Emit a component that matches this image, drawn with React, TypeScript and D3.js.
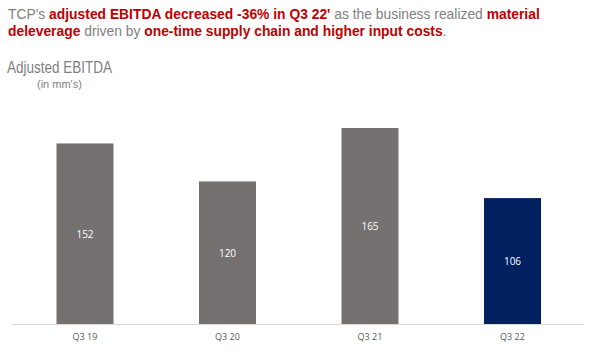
import React from "react";
import * as d3 from "d3";

const categories = ["Q3 19", "Q3 20", "Q3 21", "Q3 22"];
const values = [152, 120, 165, 106];
const highlight = ["Q3 22"];

const W = 607;
const H = 358;

export default function App() {
  const x = d3.scaleBand<string>().domain(categories).range([13.75, 583.75]).paddingInner(0.6).paddingOuter(0.3);
  const y = d3.scaleLinear().domain([0, 165]).range([324, 128]);
  const gray = "#808080";
  const red = "#C00000";
  return (
    <svg width={W} height={H} style={{ position: "absolute", left: 0, top: 0 }} fontFamily="'Liberation Sans', Arial, sans-serif">
      <text x={8} y={19} fontSize={13.85} fill={gray}>
        <tspan>TCP's </tspan>
        <tspan fill={red} fontWeight="bold">adjusted EBITDA decreased -36% in Q3 22'</tspan>
        <tspan> as the business realized </tspan>
        <tspan fill={red} fontWeight="bold">material</tspan>
      </text>
      <text x={8} y={36} fontSize={13.85} fill={gray}>
        <tspan fill={red} fontWeight="bold">deleverage</tspan>
        <tspan> driven by </tspan>
        <tspan fill={red} fontWeight="bold">one-time supply chain and higher input costs</tspan>
        <tspan>.</tspan>
      </text>
      <text x={7} y={73} fontSize={17} fill="#7f7f7f" fontFamily="'Liberation Sans Narrow', 'Arial Narrow', 'Liberation Sans', sans-serif" textLength={105} lengthAdjust="spacingAndGlyphs">Adjusted EBITDA</text>
      <text x={37} y={88} fontSize={11} fill="#7f7f7f">(in mm's)</text>
      <line x1={12} x2={584} y1={324.5} y2={324.5} stroke="#d9d9d9" strokeWidth={1} />
      {categories.map((c, i) => {
        const bx = x(c)!;
        const by = y(values[i]);
        const h = y(0) - by;
        return (
          <g key={c}>
            <rect x={bx} y={by} width={x.bandwidth()} height={h} fill={highlight.includes(c) ? "#002060" : "#767171"} />
            <text x={bx + x.bandwidth() / 2} y={by + h / 2 + 4} textAnchor="middle" fontSize={10} fill="#ffffff" fontFamily="'Open Sans', sans-serif">{values[i]}</text>
            <text x={bx + x.bandwidth() / 2} y={340} textAnchor="middle" fontSize={9} fill="#595959" fontFamily="'Open Sans', sans-serif">{c}</text>
          </g>
        );
      })}
    </svg>
  );
}
